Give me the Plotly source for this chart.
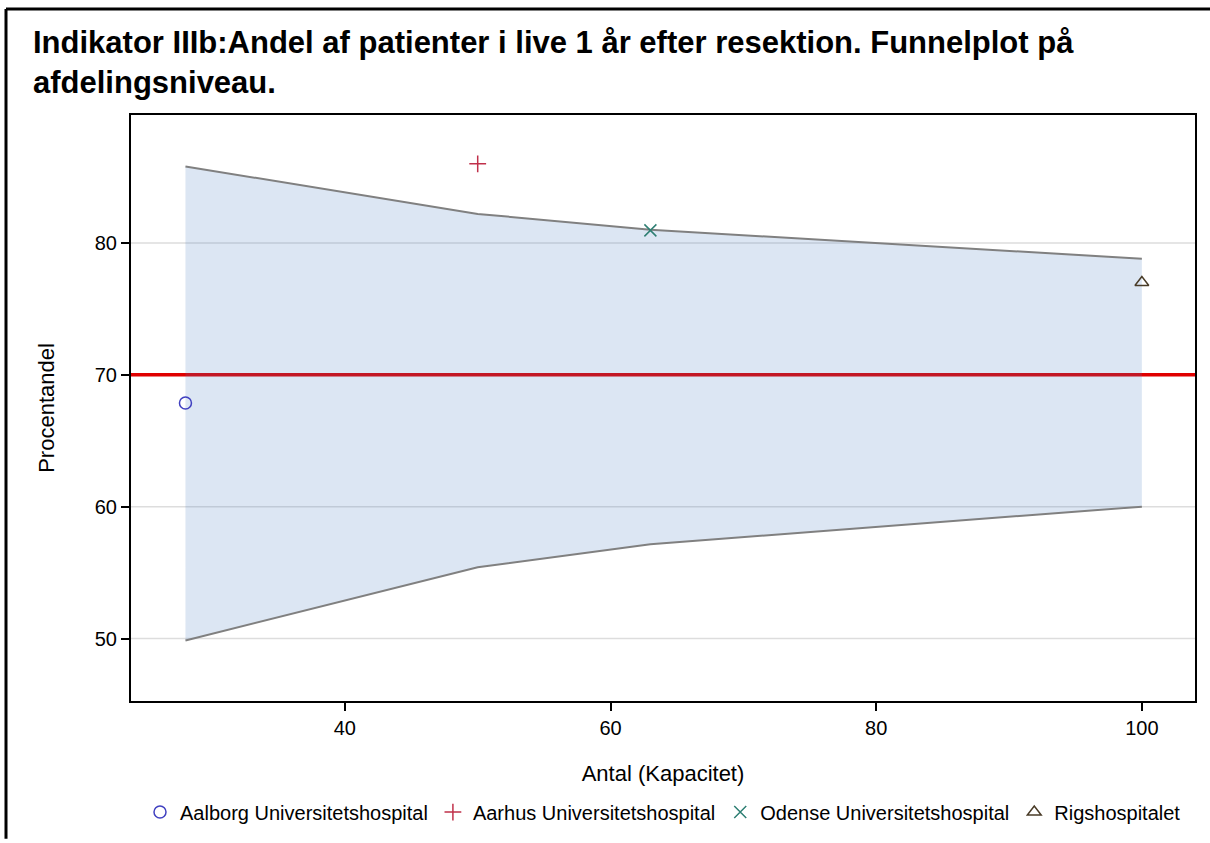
import plotly.graph_objects as go

# Data
hospitals = ["Aalborg Universitetshospital", "Aarhus Universitetshospital",
             "Odense Universitetshospital", "Rigshospitalet"]
antal = [28, 50, 63, 100]
procent = [67.86, 86.0, 80.95, 77.0]
symbols = ["circle-open", "cross-thin-open", "x-thin-open", "triangle-up-open"]
colors = ["#4040C0", "#C0304A", "#2E7F73", "#4A3C28"]

funnel_n = [28, 50, 63, 100]
funnel_upper = [85.8, 82.2, 81.0, 78.8]
funnel_lower = [49.85, 55.4, 57.15, 60.0]
target = 70

x_ticks = [40, 60, 80, 100]
y_ticks = [50, 60, 70, 80]

title_lines = ["Indikator IIIb:Andel af patienter i live 1 år efter resektion. Funnelplot på",
               "afdelingsniveau."]

fig = go.Figure()
fig.add_trace(go.Scatter(x=funnel_n, y=funnel_lower, mode="lines",
                         line=dict(color="#808080", width=2),
                         showlegend=False, hoverinfo="skip"))
fig.add_trace(go.Scatter(x=funnel_n, y=funnel_upper, mode="lines",
                         line=dict(color="#808080", width=2),
                         fill="tonexty", fillcolor="rgba(70,120,190,0.19)",
                         showlegend=False, hoverinfo="skip"))
for h, xv, yv, s, c in zip(hospitals, antal, procent, symbols, colors):
    fig.add_trace(go.Scatter(x=[xv], y=[yv], mode="markers", name=h,
                             marker=dict(symbol=s, size=12, color=c,
                                         line=dict(width=1.5, color=c))))

# gridlines (except at the target line)
for t in y_ticks:
    if t != target:
        fig.add_shape(type="line", xref="paper", x0=0, x1=1, yref="y", y0=t, y1=t,
                      line=dict(color="#DDDDDD", width=1.5), layer="below")
fig.add_shape(type="line", xref="paper", x0=0, x1=1, yref="y", y0=target, y1=target,
              line=dict(color="#E00000", width=3.5), layer="below")

# outer frame (top and left)
L, R, T, B = 131, 15, 115, 137
W, H = 1210 - L - R, 843 - T - B
def px(x):
    return (x - L) / W
def py(y):
    return (843 - B - y) / H
fig.add_shape(type="line", xref="paper", yref="paper", x0=px(6), x1=px(1212), y0=py(8), y1=py(8),
              line=dict(color="black", width=3))
fig.add_shape(type="line", xref="paper", yref="paper", x0=px(6), x1=px(6), y0=py(8), y1=py(845),
              line=dict(color="black", width=3))

title_font = dict(family="Liberation Sans, Arial, sans-serif", size=31, color="black", weight="bold")
fig.add_annotation(text="<br>".join(title_lines), xref="paper", yref="paper",
                   x=px(31), y=py(22), xanchor="left", yanchor="top", align="left",
                   showarrow=False, font=title_font)

fig.update_layout(
    width=1210, height=843,
    margin=dict(l=L, r=R, t=T, b=B),
    paper_bgcolor="white", plot_bgcolor="white",
    font=dict(family="Liberation Sans, Arial, sans-serif", color="black"),
    xaxis=dict(range=[23.9, 104.0], tickvals=x_ticks, ticks="outside", ticklen=8,
               tickwidth=2, tickcolor="black",
               showline=True, linecolor="black", linewidth=2, mirror=True,
               showgrid=False, zeroline=False,
               tickfont=dict(size=20),
               title=dict(text="Antal (Kapacitet)", font=dict(size=22), standoff=28)),
    yaxis=dict(range=[45.26, 89.7], tickvals=y_ticks, ticks="outside", ticklen=8,
               tickwidth=2, tickcolor="black",
               showline=True, linecolor="black", linewidth=2, mirror=True,
               showgrid=False, zeroline=False,
               tickfont=dict(size=20),
               title=dict(text="Procentandel", font=dict(size=22), standoff=34)),
    legend=dict(orientation="h", x=0.5, xanchor="center", y=py(818), yanchor="middle",
                traceorder="normal",
                font=dict(family="Liberation Sans, Arial, sans-serif", size=20),
                itemsizing="trace", bgcolor="rgba(0,0,0,0)"),
    showlegend=True,
)

fig.write_html("out.html")
